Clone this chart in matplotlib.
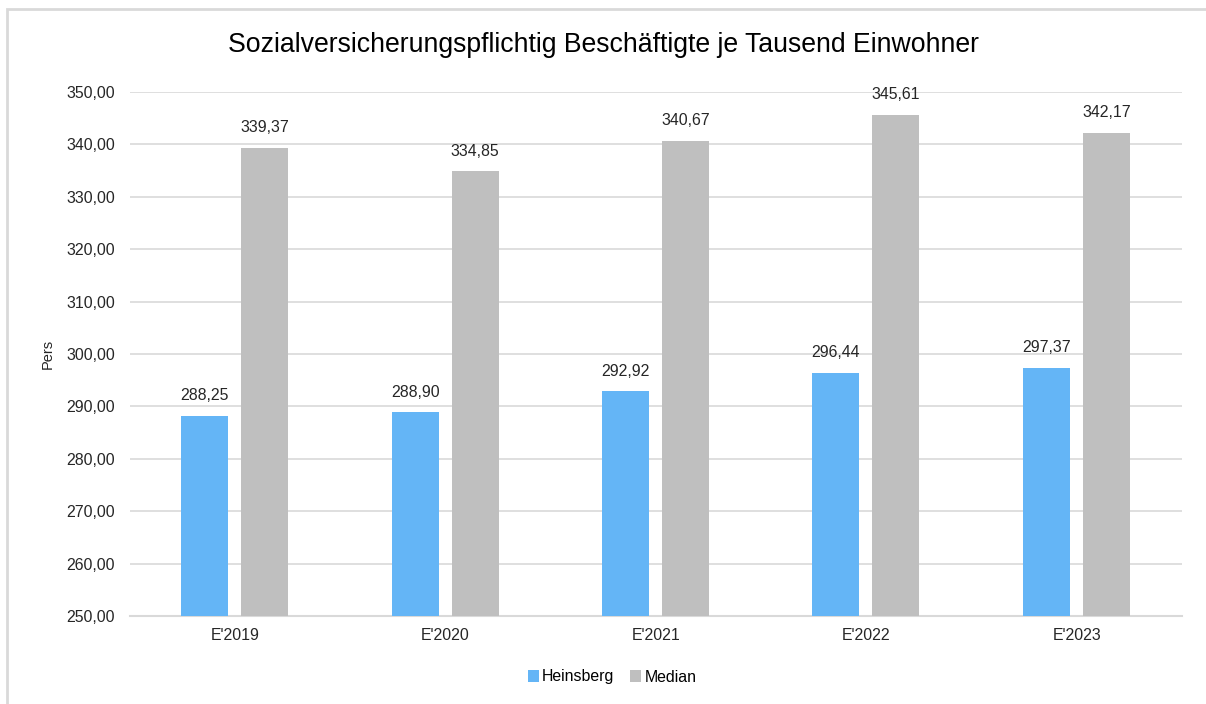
import matplotlib.pyplot as plt
import numpy as np
from matplotlib.patches import Rectangle

years = ["E'2019", "E'2020", "E'2021", "E'2022", "E'2023"]
heinsberg = [288.25, 288.90, 292.92, 296.44, 297.37]
median = [339.37, 334.85, 340.67, 345.61, 342.17]
y_ticks = [250, 260, 270, 280, 290, 300, 310, 320, 330, 340, 350]

plt.rcParams["font.family"] = ["Liberation Sans", "DejaVu Sans"]

W, H = 1206, 704
fig = plt.figure(figsize=(W / 100, H / 100), dpi=100)
ax = fig.add_axes([130 / W, 1 - 616 / H, (1182 - 130) / W, (616 - 92) / H])

# light outer frame of the chart object
fig.patches.append(
    Rectangle((7 / W, -0.01), 1.02, 1 - 9 / H + 0.01, transform=fig.transFigure,
              fill=False, edgecolor="#d9d9d9", linewidth=2, clip_on=False)
)

x = np.arange(len(years))
bw = 0.223
b1 = ax.bar(x - 0.145, heinsberg, bw, color="#64b5f6", label="Heinsberg", zorder=3)
b2 = ax.bar(x + 0.140, median, bw, color="#bfbfbf", label="Median", zorder=3)

for bars, vals in ((b1, heinsberg), (b2, median)):
    for rect, v in zip(bars, vals):
        ax.text(rect.get_x() + rect.get_width() / 2, v + 2.4,
                f"{v:.2f}".replace(".", ","), ha="center", va="bottom",
                fontsize=11.4, color="#262626")

ax.set_xlim(-0.5, len(years) - 0.5)
ax.set_ylim(250, 350)
ax.set_yticks(y_ticks)
ax.set_yticklabels([f"{t:.2f}".replace(".", ",") for t in y_ticks])
ax.set_xticks(x)
ax.set_xticklabels(years)
ax.tick_params(axis="both", length=0, labelsize=11.4, colors="#262626")
ax.tick_params(axis="y", pad=11)
ax.tick_params(axis="x", pad=9)
ax.grid(axis="y", color="#d9d9d9", linewidth=1.2, zorder=0)
for side in ("top", "right", "left"):
    ax.spines[side].set_visible(False)
ax.spines["bottom"].set_color("#d9d9d9")
ax.spines["bottom"].set_linewidth(1.5)

ax.set_ylabel("Pers", fontsize=10.5, color="#262626", labelpad=8)
fig.text(0.5, 1 - 45 / H, "Sozialversicherungspflichtig Beschäftigte je Tausend Einwohner",
         ha="center", va="center", fontsize=19.2, color="#000000")

fig.legend(handles=[b1, b2], loc="center", bbox_to_anchor=(612 / W, 1 - 677 / H),
           ncol=2, frameon=False, fontsize=11.4, handlelength=0.7, handleheight=0.7,
           handletextpad=0.2, columnspacing=1.0)

fig.savefig("out.png", dpi=100)
